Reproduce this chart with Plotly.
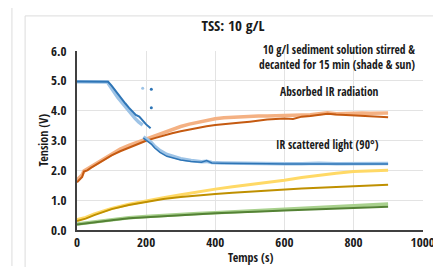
import plotly.graph_objects as go

# ---- data ----
t_blue1 = [0, 20, 40, 60, 80, 90, 100, 110, 120, 130, 140, 150, 160, 170, 180, 190, 200, 213]
blue_dark1 = [4.98, 4.98, 4.98, 4.98, 4.98, 4.97, 4.84, 4.68, 4.52, 4.38, 4.24, 4.1, 3.97, 3.86, 3.8, 3.66, 3.54, 3.41]
t_blue1l = [0, 20, 40, 60, 80, 88, 98, 108, 118, 128, 138, 148, 158, 168, 178, 190]
blue_light1 = [4.97, 4.97, 4.97, 4.97, 4.97, 4.96, 4.78, 4.6, 4.44, 4.3, 4.15, 4.0, 3.86, 3.74, 3.62, 3.52]
t_blue2 = [192, 205, 215, 225, 240, 260, 280, 300, 330, 360, 375, 390, 420, 450, 500, 550, 600, 650, 700, 750, 800, 850, 900]
blue_light2 = [3.12, 3.02, 2.93, 2.8, 2.66, 2.53, 2.45, 2.39, 2.33, 2.29, 2.3, 2.26, 2.25, 2.24, 2.23, 2.23, 2.22, 2.22, 2.24, 2.22, 2.22, 2.23, 2.23]
blue_dark2 = [3.08, 2.98, 2.88, 2.75, 2.6, 2.47, 2.4, 2.35, 2.3, 2.27, 2.33, 2.25, 2.24, 2.23, 2.22, 2.22, 2.21, 2.21, 2.22, 2.21, 2.2, 2.21, 2.21]
dots_x_light = [190]
dots_y_light = [4.75]
dots_x_dark = [215, 215]
dots_y_dark = [4.72, 4.1]

t_or = [0, 10, 15, 20, 30, 40, 60, 80, 100, 125, 150, 175, 200, 225, 250, 275, 300, 325, 350, 375, 400,
        425, 450, 475, 500, 525, 550, 575, 600, 625, 650, 675, 700, 725, 750, 775, 800, 825, 850, 875, 900]
orange_dark = [1.6, 1.72, 1.78, 1.96, 2.0, 2.08, 2.22, 2.36, 2.5, 2.64, 2.76, 2.88, 2.99, 3.08, 3.17, 3.24, 3.31, 3.37, 3.42,
               3.48, 3.52, 3.54, 3.56, 3.6, 3.63, 3.67, 3.7, 3.72, 3.74, 3.72, 3.8, 3.82, 3.86, 3.9, 3.87, 3.86,
               3.85, 3.83, 3.83, 3.8, 3.78]
orange_light = [1.68, 1.78, 1.85, 1.98, 2.05, 2.13, 2.28, 2.42, 2.56, 2.71, 2.84, 2.95, 3.05, 3.17, 3.28, 3.38, 3.47, 3.55, 3.62,
                3.68, 3.73, 3.76, 3.78, 3.8, 3.81, 3.82, 3.82, 3.83, 3.84, 3.84, 3.86, 3.86, 3.9, 3.93, 3.9, 3.91,
                3.92, 3.92, 3.91, 3.92, 3.92]

t_slow = [0, 25, 50, 100, 150, 200, 250, 300, 350, 400, 450, 500, 550, 600, 650, 700, 750, 800, 850, 900]
yellow = [0.35, 0.42, 0.54, 0.72, 0.86, 0.98, 1.08, 1.18, 1.28, 1.37, 1.45, 1.52, 1.6, 1.67, 1.76, 1.84, 1.9, 1.96, 1.98, 2.0]
gold = [0.3, 0.38, 0.5, 0.7, 0.84, 0.95, 1.04, 1.11, 1.17, 1.21, 1.25, 1.29, 1.33, 1.36, 1.39, 1.42, 1.45, 1.48, 1.5, 1.52]
green_light = [0.2, 0.24, 0.28, 0.35, 0.41, 0.45, 0.49, 0.52, 0.55, 0.58, 0.61, 0.64, 0.67, 0.7, 0.73, 0.76, 0.79, 0.82, 0.85, 0.87]
green_dark = [0.18, 0.22, 0.26, 0.33, 0.39, 0.43, 0.47, 0.5, 0.53, 0.56, 0.59, 0.61, 0.63, 0.65, 0.67, 0.69, 0.72, 0.74, 0.76, 0.78]

x_ticks = [0, 200, 400, 600, 800, 1000]
y_ticks = [0, 1, 2, 3, 4, 5, 6]

FONT = "Open Sans Condensed, Roboto Condensed, Roboto, sans-serif"
TXT = "#1a1a1a"

fig = go.Figure()

def line(x, y, color, width):
    fig.add_trace(go.Scatter(x=x, y=y, mode="lines", line=dict(color=color, width=width), showlegend=False))

line(t_slow, green_light, "#a9d18e", 3.5)
line(t_slow, green_dark, "#548235", 2)
line(t_slow, yellow, "#ffd966", 3)
line(t_slow, gold, "#bf9000", 2)
line(t_or, orange_light, "#f4b183", 3.5)
line(t_or, orange_dark, "#c55a11", 2)
line(t_blue1l, blue_light1, "#9dc3e6", 3.5)
line(t_blue1, blue_dark1, "#2e75b6", 2)
line(t_blue2, blue_light2, "#9dc3e6", 3.5)
line(t_blue2, blue_dark2, "#2e75b6", 1.5)
fig.add_trace(go.Scatter(x=dots_x_light, y=dots_y_light, mode="markers",
                         marker=dict(color="#9dc3e6", size=3), showlegend=False))
fig.add_trace(go.Scatter(x=dots_x_dark, y=dots_y_dark, mode="markers",
                         marker=dict(color="#2e75b6", size=3), showlegend=False))

ann_font = dict(family=FONT, size=11.5, color=TXT)
fig.add_annotation(x=985, y=5.8, xref="x", yref="y", showarrow=False, xanchor="right", align="right",
                   text="<b>10 g/l sediment solution stirred &<br>decanted for 15 min (shade & sun)</b>",
                   font=ann_font)
fig.add_annotation(x=730, y=4.64, xref="x", yref="y", showarrow=False,
                   text="<b>Absorbed IR radiation</b>", font=ann_font)
fig.add_annotation(x=725, y=2.88, xref="x", yref="y", showarrow=False,
                   text="<b>IR scattered light (90°)</b>", font=ann_font)

# axis titles (paper coords: x=(px-69)/346, y=(222-py)/179)
fig.add_annotation(x=(35 - 69) / 346, y=0.5, xref="paper", yref="paper", showarrow=False, textangle=-90,
                   xanchor="center", yanchor="middle", text="<b>Tension (V)</b>",
                   font=dict(family=FONT, size=12, color=TXT))
fig.add_annotation(x=(242 - 69) / 346, y=(222 - 249) / 179, xref="paper", yref="paper", showarrow=False,
                   xanchor="center", yanchor="middle", text="<b>Temps (s)</b>",
                   font=dict(family=FONT, size=12, color=TXT))

# frames
fig.add_shape(type="rect", xref="paper", yref="paper", x0=-0.150, x1=1.058, y0=-0.27, y1=1.196,
              line=dict(color="#dcdcdc", width=1), fillcolor="rgba(0,0,0,0)", layer="below")
fig.add_shape(type="line", xref="paper", yref="paper", x0=-0.188, x1=-0.188, y0=-0.201, y1=1.25,
              line=dict(color="#dcdcdc", width=1))

fig.update_layout(
    width=441, height=267, autosize=False,
    margin=dict(l=69, r=26, t=43, b=45),
    paper_bgcolor="white", plot_bgcolor="white",
    font=dict(family=FONT, color=TXT),
    title=dict(text="<b>TSS: 10 g/L</b>", x=225/441, xanchor="center", y=1 - 18/267, yanchor="middle",
               font=dict(family=FONT, size=15, color=TXT)),
    xaxis=dict(range=[0, 1001], tickvals=x_ticks, ticktext=[f"<b>{v}</b>" for v in x_ticks],
               showgrid=True, gridcolor="#e3e3e3", gridwidth=1, zeroline=False,
               showline=True, linecolor="#404040", linewidth=1.5, ticks="",
               tickfont=dict(family=FONT, size=13, color=TXT)),
    yaxis=dict(range=[0, 6], tickvals=y_ticks, ticktext=[f"<b>{v:.1f}</b>" for v in y_ticks],
               showgrid=True, gridcolor="#e3e3e3", gridwidth=1, zeroline=False,
               showline=True, linecolor="#404040", linewidth=1.5, ticks="", ticklabelstandoff=6,
               tickfont=dict(family=FONT, size=13, color=TXT)),
)

fig.write_html("out.html")
